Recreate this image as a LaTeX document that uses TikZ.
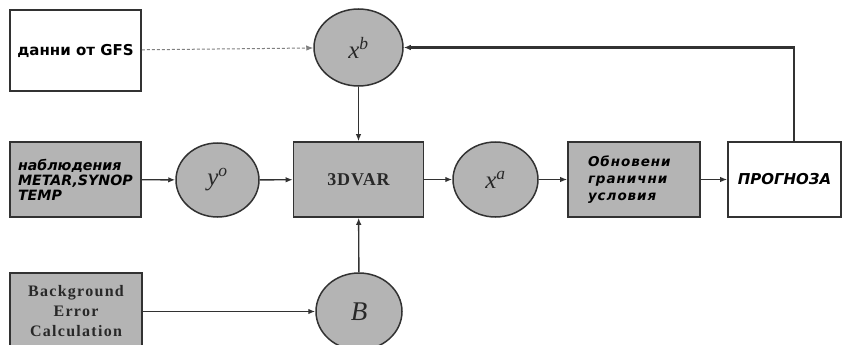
\documentclass[tikz,border=0pt]{standalone}
\usepackage{fontspec}
\setmainfont{Liberation Serif}
\newfontfamily\dejavu{DejaVu Sans}
\usetikzlibrary{arrows.meta,shapes.geometric}
\definecolor{fond}{RGB}{180,180,180}
\definecolor{trait}{RGB}{50,50,50}
\definecolor{texte}{RGB}{40,40,40}

\begin{document}
\begin{tikzpicture}[x=1pt,y=-1pt,
  boite/.style={draw=trait,line width=1.6pt,rectangle,minimum height=75pt,inner sep=0pt},
  grise/.style={boite,fill=fond},
  bulle/.style={draw=trait,line width=1.5pt,ellipse,fill=fond,minimum width=87pt,minimum height=76pt,inner sep=0pt,text=texte},
  fleche/.style={-{Latex[length=7pt,width=5.5pt]},line width=1.4pt,draw=trait},
  cyr/.style={font=\dejavu\bfseries\fontsize{15}{15}\selectfont},
  cyrit/.style={font=\dejavu\bfseries\itshape\fontsize{15}{15}\selectfont},
  serif/.style={font=\bfseries\fontsize{16}{20}\selectfont\addfontfeature{LetterSpace=8},text=texte}]

\clip (0,0) rectangle (846,345);
\fill[white] (0,0) rectangle (846,345);

% ligne du haut
\node[boite,minimum width=131pt,minimum height=81pt,cyr] (gfs) at (75.5,50.5) {данни от GFS};
\node[bulle,minimum width=89pt,minimum height=77pt,font=\itshape\fontsize{25}{25}\selectfont] (xb) at (358.5,47.5) {x\textsuperscript{b}};

% ligne du milieu
\node[grise,minimum width=131pt,cyrit,font=\dejavu\bfseries\itshape\fontsize{14.2}{15}\selectfont,text width=115pt,align=left] (obs) at (75.5,179.5) {наблюдения\\METAR,SYNOP\\TEMP};
\node[bulle,minimum width=83pt,minimum height=74pt,font=\itshape\fontsize{25}{25}\selectfont] (yo) at (217.5,180) {y\textsuperscript{o}};
\node[grise,minimum width=130pt,serif,font=\bfseries\fontsize{18}{18}\selectfont\addfontfeature{LetterSpace=5}] (var) at (358.5,179.5) {3DVAR};
\node[bulle,minimum width=85pt,minimum height=75pt,font=\itshape\fontsize{25}{25}\selectfont] (xa) at (495.5,179.5) {x\textsuperscript{a}};
\node[grise,minimum width=132pt,text width=92pt,align=left,font=\dejavu\bfseries\itshape\fontsize{13.5}{17}\selectfont\addfontfeature{LetterSpace=7}] (upd) at (634,179.5) {Обновени\\гранични\\условия};
\node[boite,minimum width=113pt,cyrit] (prog) at (784.5,179.5) {ПРОГНОЗА};

% ligne du bas
\node[grise,minimum width=132pt,minimum height=77pt,serif,align=center] (bec) at (76,311.5) {Background\\Error\\Calculation};
\node[bulle,minimum width=86pt,minimum height=77pt,font=\itshape\fontsize{27}{27}\selectfont] (B) at (359,311.5) {B};

% fleches
\draw[fleche,draw=gray,dash pattern=on 3pt off 2pt,line width=1pt] (gfs) -- (xb);
\draw[fleche] (xb) -- (var);
\draw[fleche] (obs) -- (yo);
\draw[fleche] (yo) -- (var);
\draw[fleche] (var) -- (xa);
\draw[fleche] (xa) -- (upd);
\draw[fleche] (upd) -- (prog);
\draw[fleche] (bec.east |- B.west) -- (B.west);
\draw[fleche] (B) -- (var);
\draw[fleche,line width=2.2pt] ([xshift=9.5pt]prog.north) |- (xb.east);
\end{tikzpicture}
\end{document}
